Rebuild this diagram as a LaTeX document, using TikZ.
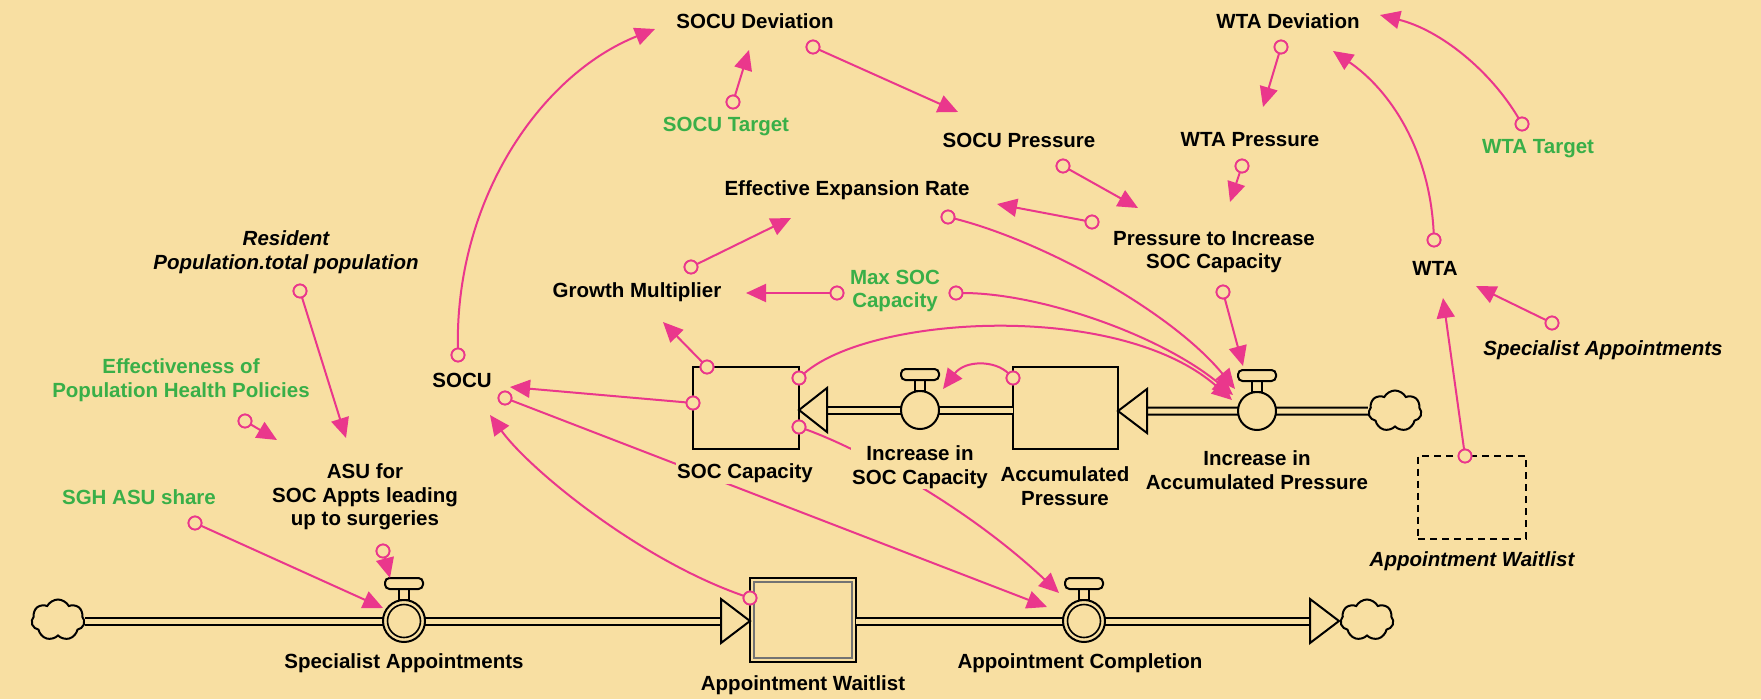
\documentclass[tikz,border=0pt]{standalone}
\usepackage{fontspec}
\setmainfont{Liberation Sans}
\usetikzlibrary{arrows.meta,shapes.symbols}
\definecolor{bg}{RGB}{248,223,162}
\definecolor{linkpink}{RGB}{234,55,140}
\definecolor{sdgreen}{RGB}{57,175,72}
% stem and handle on top of a valve node
\newcommand\valvecap[1]{%
  \draw[line width=2pt, fill=bg] ([xshift=-5pt]#1.north) rectangle ([xshift=5pt,yshift=11pt]#1.north);
  \draw[line width=2pt, fill=bg, rounded corners=4.5pt] ([xshift=-19pt,yshift=11pt]#1.north) rectangle ([xshift=19pt,yshift=22pt]#1.north);
}
\begin{document}
\begin{tikzpicture}[x=1pt,y=-1pt,
  lbl/.style={font=\fontsize{20.5}{23.5}\selectfont\bfseries, align=center, inner sep=1pt, text=black},
  grn/.style={lbl, text=sdgreen},
  itl/.style={lbl, font=\fontsize{20.5}{23.5}\selectfont\bfseries\itshape},
  mask/.style={fill=bg},
  dot/.style={circle, draw=linkpink, fill=bg, line width=1.8pt, minimum size=13pt, inner sep=0pt, outer sep=0pt},
  link/.style={draw=linkpink, line width=2pt, -{Triangle[length=20pt,width=18pt]}},
  stock/.style={draw, line width=2pt, fill=bg, minimum width=106pt, minimum height=82pt, inner sep=0pt, outer sep=0pt},
  valve/.style={circle, draw, line width=2pt, fill=bg, minimum size=38pt, inner sep=0pt, outer sep=0pt},
  pipe/.style={line width=2pt, double=bg, double distance=5pt},
  pipehead/.style={draw, line width=2pt, fill=bg, line join=miter},
  sky/.style={cloud, cloud puffs=7, cloud puff arc=125, cloud ignores aspect, draw, line width=2pt, fill=bg, minimum width=53pt, minimum height=41pt, inner sep=0pt}
]
\fill[bg] (0,0) rectangle (1761,699);
\useasboundingbox (0,0) rectangle (1761,699);

% ---------- stocks ----------
\node[stock] (soc) at (746,408) {};
\node[stock, minimum width=105pt] (acc) at (1065.5,408) {};
\node[stock, minimum height=84pt] (wl) at (803,620) {};
\draw[line width=1.5pt, draw=black!55] ([shift={(4pt,4pt)}]wl.south west) rectangle ([shift={(-4pt,-4pt)}]wl.north east);
\node[stock, fill=none, dashed, dash pattern=on 7pt off 5pt, minimum width=108pt, minimum height=83pt] (ghost) at (1472,497) {};

% ---------- clouds ----------
\node[sky] (cloudtr) at (1395,411) {};
\node[sky] (cloudl) at (58,620) {};
\node[sky] (cloudbr) at (1367,620) {};

% ---------- pipes ----------
\coordinate (acchead) at (1147,411);
\coordinate (sochead) at (827,410);
\coordinate (wlhead) at (721,621);
\coordinate (endhead) at (1310,621);
\coordinate (endtip) at (1339,621);
\draw[pipe] (cloudtr.west) -- (acchead);
\draw[pipe] (acc.west |- sochead) -- (sochead);
\draw[pipe] (cloudl.east |- wlhead) -- (wlhead);
\draw[pipe] (wl.east |- endhead) -- (endhead);
\draw[pipehead] ([yshift=22pt]acchead) -- (acc.east |- acchead) -- ([yshift=-22pt]acchead) -- cycle;
\draw[pipehead] ([yshift=22pt]sochead) -- (soc.east |- sochead) -- ([yshift=-22pt]sochead) -- cycle;
\draw[pipehead] ([yshift=22pt]wlhead) -- (wl.west |- wlhead) -- ([yshift=-22pt]wlhead) -- cycle;
\draw[pipehead] ([yshift=22pt]endhead) -- (endtip) -- ([yshift=-22pt]endhead) -- cycle;

% ---------- valves ----------
\node[valve] (vsoc) at (920,410) {};
\valvecap{vsoc}
\node[valve] (vacc) at (1257,411) {};
\valvecap{vacc}
\node[valve, minimum size=42pt] (vsa) at (404,621) {};
\draw[line width=1.6pt] (vsa) circle (16.5pt);
\valvecap{vsa}
\node[valve, minimum size=42pt] (vac) at (1084,621) {};
\draw[line width=1.6pt] (vac) circle (16.5pt);
\valvecap{vac}

% ---------- labels ----------
\node[lbl] (socudev) at (755,21) {SOCU Deviation};
\node[lbl] (wtadev) at (1288,21) {WTA Deviation};
\node[grn] (socutarget) at (726,127) {SOCU Target};
\node[lbl] (socupress) at (1019,140) {SOCU Pressure};
\node[lbl] (wtapress) at (1250,140) {WTA Pressure};
\node[grn] (wtatarget) at (1538,149) {WTA Target};
\node[lbl] (eer) at (847,190) {Effective Expansion Rate};
\node[lbl] (pti) at (1214,252) {Pressure to Increase\\SOC Capacity};
\node[lbl] (wta) at (1435,268) {WTA};
\node[itl] (resident) at (286,252) {Resident\\Population.total population};
\node[lbl] (gm) at (637,292) {Growth Multiplier};
\node[grn] (maxsoc) at (895,291) {Max SOC\\Capacity};
\node[itl] (specappi) at (1603,350) {Specialist Appointments};
\node[grn] (effect) at (181,380) {Effectiveness of\\Population Health Policies};
\node[lbl] (socu) at (462,380) {SOCU};
\node[grn] (sgh) at (139,497) {SGH ASU share};
\node[lbl] (asu) at (365,497) {ASU for\\SOC Appts leading\\up to surgeries};
\node[lbl] (accl) at (1065,486) {Accumulated\\Pressure};
\node[lbl] (vaccl) at (1257,470) {Increase in\\Accumulated Pressure};
\node[itl] (ghostl) at (1472,561) {Appointment Waitlist};
\node[lbl] (vsal) at (404,663) {Specialist Appointments};
\node[lbl] (wll) at (803,685) {Appointment Waitlist};
\node[lbl] (vacl) at (1080,663) {Appointment Completion};

% ---------- link tails ----------
\node[dot] (d1) at (458,355) {};
\node[dot] (d2) at (733,102) {};
\node[dot] (d3) at (813,47) {};
\node[dot] (d4) at (1063,166) {};
\node[dot] (d5) at (1281,47) {};
\node[dot] (d6) at (1242,166) {};
\node[dot] (d7) at (1092,222) {};
\node[dot] (d8) at (948,217) {};
\node[dot] (d9) at (691,267) {};
\node[dot] (d10) at (837,293) {};
\node[dot] (d11) at (956,293) {};
\node[dot] (d12) at (1223,292) {};
\node[dot] (d13) at (1434,240) {};
\node[dot] (d14) at (1522,124) {};
\node[dot] (d15) at (1552,323) {};
\node[dot] (d16) at (1465,456) {};
\node[dot] (d17) at (707,367) {};
\node[dot] (d18) at (799,378) {};
\node[dot] (d19) at (693,403) {};
\node[dot] (d20) at (799,427) {};
\node[dot] (d21) at (505,398) {};
\node[dot] (d22) at (750,598) {};
\node[dot] (d23) at (1013,378) {};
\node[dot] (d24) at (300,291) {};
\node[dot] (d25) at (245,421) {};
\node[dot] (d26) at (195,523) {};
\node[dot] (d27) at (383,551) {};

% ---------- link heads ----------
\coordinate (t1) at (655,29);
\coordinate (t2) at (749,50);
\coordinate (t3) at (958,112);
\coordinate (t4) at (1138,208);
\coordinate (t5) at (1263,107);
\coordinate (t6) at (1230,202);
\coordinate (t7) at (997,204);
\coordinate (t8) at (1235,389);
\coordinate (t9) at (791,218);
\coordinate (t10) at (746,293);
\coordinate (t11) at (1233,395);
\coordinate (t12) at (1243,366);
\coordinate (t13) at (1333,51);
\coordinate (t14) at (1380,15);
\coordinate (t15) at (1476,286);
\coordinate (t16) at (1443,298);
\coordinate (t17) at (663,322);
\coordinate (t18) at (1232,400);
\coordinate (t19) at (510,387);
\coordinate (t20) at (1059,593);
\coordinate (t21) at (1047,607);
\coordinate (t22) at (490,415);
\coordinate (t23) at (943,389);
\coordinate (t24) at (346,438);
\coordinate (t25) at (277,440);
\coordinate (t26) at (383,608);
\coordinate (t27) at (390,578);

% ---------- links ----------
\draw[link] (d1) .. controls (455,200) and (540,75) .. (t1);
\draw[link] (d2) -- (t2);
\draw[link] (d3) -- (t3);
\draw[link] (d4) -- (t4);
\draw[link] (d5) -- (t5);
\draw[link] (d6) -- (t6);
\draw[link] (d7) -- (t7);
\draw[link] (d8) .. controls (1040,240) and (1170,310) .. (t8);
\draw[link] (d9) -- (t9);
\draw[link] (d10) -- (t10);
\draw[link] (d11) .. controls (1040,293) and (1160,335) .. (t11);
\draw[link] (d12) -- (t12);
\draw[link] (d13) .. controls (1430,150) and (1390,90) .. (t13);
\draw[link] (d14) .. controls (1490,70) and (1440,30) .. (t14);
\draw[link] (d15) -- (t15);
\draw[link] (d16) -- (t16);
\draw[link] (d17) -- (t17);
\draw[link] (d18) .. controls (870,315) and (1120,300) .. (t18);
\draw[link] (d19) -- (t19);
\draw[link] (d20) .. controls (850,445) and (960,500) .. (t20);
\draw[link] (d21) -- (t21);
\draw[link] (d22) .. controls (640,560) and (530,470) .. (t22);
\draw[link] (d23) .. controls (995,360) and (965,360) .. (t23);
\draw[link] (d24) -- (t24);
\draw[link] (d25) -- (t25);
\draw[link] (d26) -- (t26);
\draw[link] (d27) -- (t27);

% redraw tails above the link lines
\foreach \d in {d1,d2,d3,d4,d5,d6,d7,d8,d9,d10,d11,d12,d13,d14,d15,d16,d17,d18,d19,d20,d21,d22,d23,d24,d25,d26,d27}
  \node[dot] at (\d) {};

% labels that sit over link lines
\node[lbl, mask] (socl) at (745,473) {SOC Capacity};
\node[lbl, mask] (vsocl) at (920,467) {Increase in\\SOC Capacity};
\end{tikzpicture}
\end{document}
